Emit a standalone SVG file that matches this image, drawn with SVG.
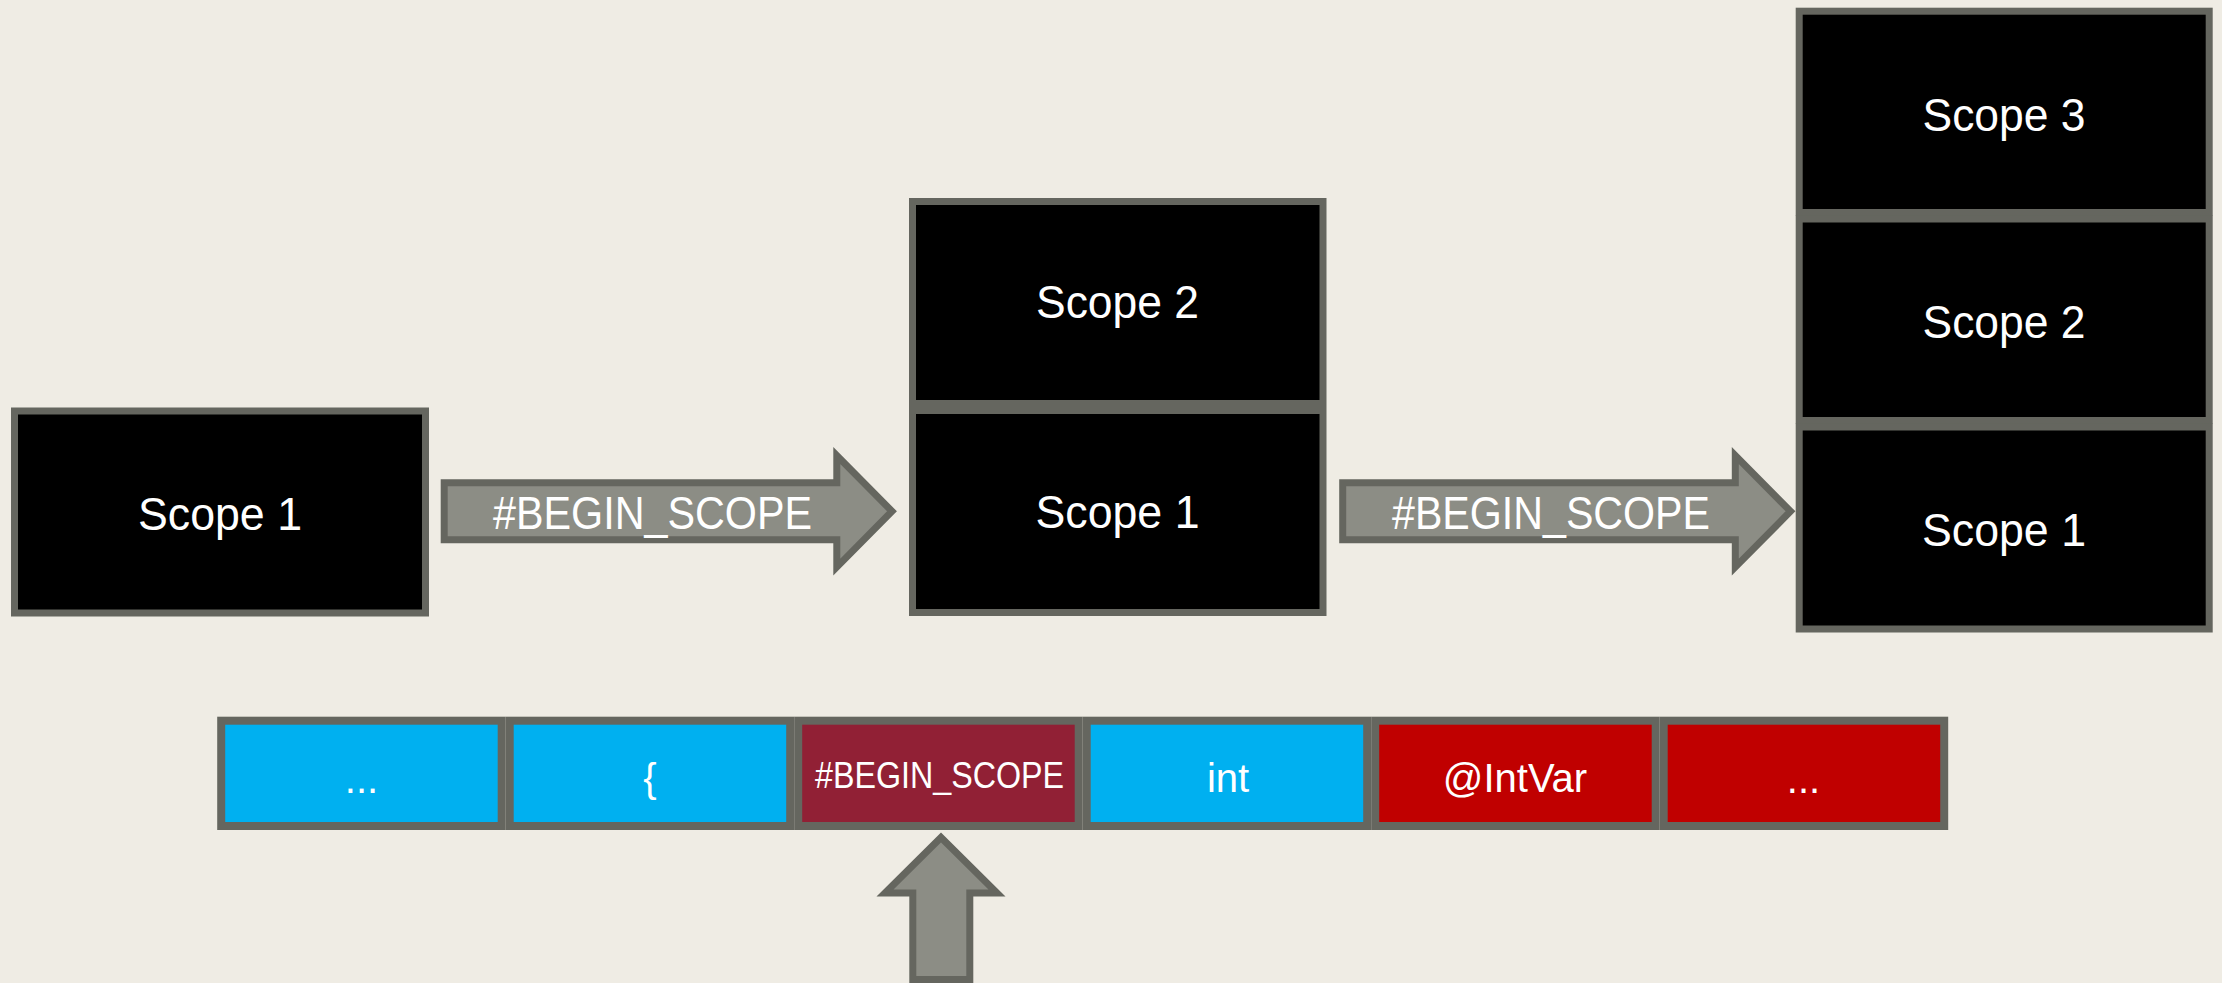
<svg xmlns="http://www.w3.org/2000/svg" width="2222" height="983" viewBox="0 0 2222 983">
<style>
.bg{fill:#EFECE4}
.scope{fill:#000000;stroke:#65665F;stroke-width:7}
.tok{stroke:#65665F;stroke-width:8}
.blue{fill:#00B0F0}
.dred{fill:#912035}
.red{fill:#C00000}
.arrow{fill:#8C8D85;stroke:#65665F;stroke-width:7;stroke-linejoin:miter}
.lbl{font-family:"Liberation Sans",Arial,sans-serif;fill:#FFFFFF;text-anchor:middle}
.big{font-size:46px}
.tk{font-size:40px}
.tks{font-size:36px}
</style>
<rect class="bg" x="0" y="0" width="2222" height="983"/>

<g id="left-scope1">
<rect class="scope" x="14.5" y="411" width="411" height="202"/>
<text class="lbl big" x="220" y="530" textLength="164" lengthAdjust="spacingAndGlyphs">Scope 1</text>
</g>

<g id="mid-scope2">
<rect class="scope" x="912.5" y="201.5" width="410.5" height="202"/>
<text class="lbl big" x="1117.5" y="318" textLength="163" lengthAdjust="spacingAndGlyphs">Scope 2</text>
</g>
<g id="mid-scope1">
<rect class="scope" x="912.5" y="410.5" width="410.5" height="202"/>
<text class="lbl big" x="1117.5" y="528" textLength="164" lengthAdjust="spacingAndGlyphs">Scope 1</text>
</g>

<g id="right-scope3">
<rect class="scope" x="1799.2" y="11.2" width="410" height="201.3"/>
<text class="lbl big" x="2004" y="130.5" textLength="163" lengthAdjust="spacingAndGlyphs">Scope 3</text>
</g>
<g id="right-scope2">
<rect class="scope" x="1799.2" y="219" width="410" height="201.5"/>
<text class="lbl big" x="2004" y="337.5" textLength="163" lengthAdjust="spacingAndGlyphs">Scope 2</text>
</g>
<g id="right-scope1">
<rect class="scope" x="1799.2" y="427" width="410" height="202"/>
<text class="lbl big" x="2004" y="545.5" textLength="164" lengthAdjust="spacingAndGlyphs">Scope 1</text>
</g>

<g id="tok1">
<rect class="tok blue" x="221.2" y="720.7" width="280.5" height="105.3"/>
<text class="lbl tk" x="361.5" y="793">...</text>
</g>
<g id="tok2">
<rect class="tok blue" x="509.7" y="720.7" width="280.5" height="105.3"/>
<text class="lbl tk" x="650" y="792">{</text>
</g>
<g id="tok3">
<rect class="tok dred" x="798.2" y="720.7" width="280.5" height="105.3"/>
<text class="lbl tks" x="939.5" y="787.5" textLength="249" lengthAdjust="spacingAndGlyphs">#BEGIN_SCOPE</text>
</g>
<g id="tok4">
<rect class="tok blue" x="1086.7" y="720.7" width="280.5" height="105.3"/>
<text class="lbl tk" x="1228" y="792">int</text>
</g>
<g id="tok5">
<rect class="tok red" x="1375.2" y="720.7" width="280.5" height="105.3"/>
<text class="lbl tk" x="1515" y="792">@IntVar</text>
</g>
<g id="tok6">
<rect class="tok red" x="1663.7" y="720.7" width="280.5" height="105.3"/>
<text class="lbl tk" x="1803.5" y="793">...</text>
</g>

<g id="connectors">
<g id="arrow1">
<polygon class="arrow" points="444.2,482.8 836.8,482.8 836.8,455.5 892,511.3 836.8,567.1 836.8,539.8 444.2,539.8"/>
<text class="lbl big" x="652.5" y="529" textLength="319" lengthAdjust="spacingAndGlyphs">#BEGIN_SCOPE</text>
</g>
<g id="arrow2">
<polygon class="arrow" points="1342.7,482.8 1735.3,482.8 1735.3,455.5 1790.5,511.3 1735.3,567.1 1735.3,539.8 1342.7,539.8"/>
<text class="lbl big" x="1551" y="529" textLength="318" lengthAdjust="spacingAndGlyphs">#BEGIN_SCOPE</text>
</g>
<g id="arrow3">
<polygon class="arrow" points="912.8,979.5 912.8,893 885,893 941,837.5 997,893 969.8,893 969.8,979.5"/>
</g>
</g>
</svg>
